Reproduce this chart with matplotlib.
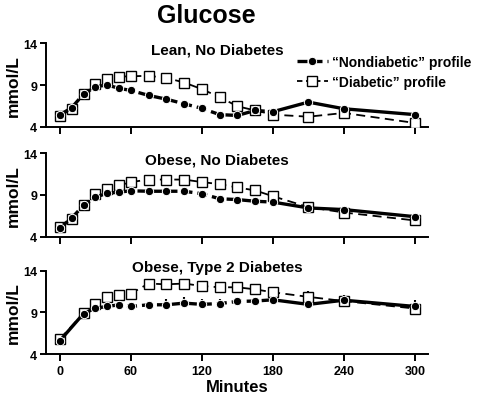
import matplotlib
matplotlib.use("Agg")
import matplotlib.pyplot as plt
import numpy as np
from matplotlib.lines import Line2D

plt.rcParams['font.family'] = ['Liberation Sans', 'DejaVu Sans']
plt.rcParams['font.weight'] = 'bold'

# data (mmol/L)
t_full = [0, 10, 20, 30, 40, 50, 60, 75, 90, 105, 120, 135, 150, 165, 180, 210, 240, 300]
t_t2d = [0, 20, 30, 40, 50, 60, 75, 90, 105, 120, 135, 150, 165, 180, 210, 240, 300]

lean_nd = [5.4, 6.3, 7.9, 8.8, 9.0, 8.6, 8.35, 7.75, 7.3, 6.75, 6.2, 5.45, 5.35, 5.95, 5.8, 6.95, 6.15, 5.45]
lean_d = [5.25, 6.15, 7.95, 9.15, 9.7, 10.0, 10.05, 10.1, 9.85, 9.3, 8.5, 7.55, 6.45, 5.95, 5.45, 5.2, 5.65, 4.45]

obese_nd = [5.05, 6.25, 7.75, 8.75, 9.2, 9.35, 9.5, 9.45, 9.45, 9.45, 9.15, 8.55, 8.45, 8.25, 8.15, 7.45, 7.25, 6.4]
obese_d = [5.15, 6.15, 7.85, 9.15, 9.7, 10.15, 10.55, 10.85, 10.85, 10.85, 10.55, 10.3, 9.9, 9.55, 8.85, 7.55, 6.9, 5.95]

t2d_nd = [5.6, 8.85, 9.5, 9.7, 9.9, 9.7, 9.9, 9.9, 10.1, 9.95, 10.05, 10.3, 10.35, 10.5, 9.95, 10.45, 9.7]
t2d_d = [5.8, 8.9, 9.95, 10.85, 11.05, 11.25, 12.45, 12.35, 12.45, 12.15, 12.0, 12.0, 11.75, 11.4, 10.85, 10.35, 9.45]
t2d_nd_err = [0, 0, 0, 0, 0, 0, 0, 0.7, 0.7, 0.7, 0.6, 0, 0, 0, 0, 0, 0.8]
t2d_d_err = [0, 0, 0, 0, 0, 0, 0, 0, 0, 0, 0, 0, 0.6, 0.6, 0.7, 0.7, 0.6]

panels = [
    ("Lean, No Diabetes", t_full, lean_nd, lean_d, None, None),
    ("Obese, No Diabetes", t_full, obese_nd, obese_d, None, None),
    ("Obese, Type 2 Diabetes", t_t2d, t2d_nd, t2d_d, t2d_nd_err, t2d_d_err),
]

fig = plt.figure(figsize=(4.82, 4.02), dpi=100)
fig.text(0.428, 0.943, "Glucose", ha='center', va='baseline', fontsize=18, fontweight='bold')

bottoms = [0.6823, 0.4087, 0.1169]
for i, (title, t, nd, d, nd_err, d_err) in enumerate(panels):
    ax = fig.add_axes([0.0948, bottoms[i], 0.793, 0.2075])
    t = np.array(t)
    nd = np.array(nd)
    d = np.array(d)
    cut = list(t).index(180)
    start = 1 if i == 2 else 0

    if d_err is not None:
        ax.errorbar(t, d, yerr=[np.zeros(len(d)), d_err], fmt='none', ecolor='black',
                    elinewidth=1.5, capsize=0, zorder=1)
        ax.errorbar(t, nd, yerr=[np.zeros(len(nd)), nd_err], fmt='none', ecolor='black',
                    elinewidth=1.5, capsize=0, zorder=1)

    # diabetic profile
    ax.plot(t, d, color='black', lw=1.3, ls=(0, (5, 3)), zorder=2)
    ax.plot(t, d, ls='none', marker='s', ms=6.5, mfc='white', mec='black', mew=1.0, zorder=3)

    # nondiabetic profile
    if start:
        ax.plot(t[:start + 1], nd[:start + 1], color='black', lw=2.4, ls='-', zorder=4)
    ax.plot(t[start:cut + 1], nd[start:cut + 1], color='black', lw=2.4, ls=(0, (3, 1.5)), zorder=4)
    ax.plot(t[cut:], nd[cut:], color='black', lw=2.4, ls='-', zorder=4)
    ax.plot(t, nd, ls='none', marker='o', ms=6, mfc='black', mec='white', mew=0.7, zorder=5)

    ax.set_xlim(-12, 311)
    ax.set_ylim(4, 14)
    ax.set_yticks([4, 9, 14])
    ax.set_xticks([0, 60, 120, 180, 240, 300])
    ax.spines['top'].set_visible(False)
    ax.spines['right'].set_visible(False)
    ax.spines['left'].set_linewidth(1.4)
    ax.spines['bottom'].set_linewidth(1.4)
    ax.tick_params(axis='both', direction='out', width=1.4, labelsize=9)
    ax.tick_params(axis='y', length=4, pad=2)
    ax.tick_params(axis='x', length=5, pad=3)
    for lab in ax.get_xticklabels() + ax.get_yticklabels():
        lab.set_fontweight('bold')
    if i < 2:
        ax.set_xticklabels([])
    else:
        ax.set_xlabel("Minutes", fontsize=12, fontweight='bold', labelpad=1)
    ax.set_ylabel("mmol/L", fontsize=12.5, fontweight='bold', labelpad=2)
    ty = 0.93 if i < 2 else 1.04
    ax.text(133, ty, title, transform=ax.get_xaxis_transform(), ha='center', va='center',
            fontsize=11, fontweight='bold')

# legend
h_nd = Line2D([], [], color='black', lw=2.4, ls=(0, (3, 1.5)), marker='o', ms=6,
              mfc='black', mec='white', mew=0.7)
h_d = Line2D([], [], color='black', lw=1.3, ls=(0, (3, 2)), marker='s', ms=6.5,
             mfc='white', mec='black', mew=1.0)
fig.legend([h_nd, h_d], ["\u201cNondiabetic\u201d profile", "\u201cDiabetic\u201d profile"],
           loc='upper left', bbox_to_anchor=(297 / 482, 1 - 56 / 402), frameon=False,
           prop={'weight': 'bold', 'size': 10}, handlelength=2.2, handletextpad=0.3,
           labelspacing=0.45, borderpad=0, borderaxespad=0)

fig.savefig("out.png", dpi=100)
